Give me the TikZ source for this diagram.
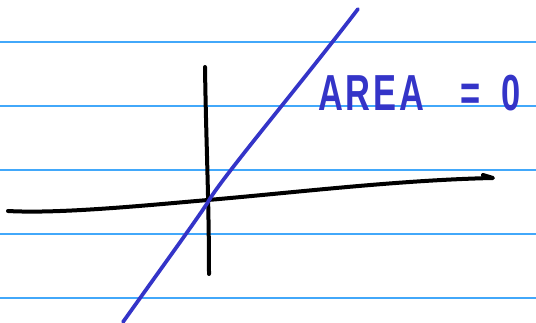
\documentclass[tikz,border=0pt]{standalone}
\usepackage{fontspec}
\setsansfont{Liberation Sans}
\definecolor{ruleblue}{RGB}{66,168,250}
\definecolor{penblue}{RGB}{52,52,200}
\usetikzlibrary{positioning,calc}

\begin{document}
\begin{tikzpicture}[x=0.75pt,y=-0.75pt,line cap=round,line join=round,
  rule/.style={ruleblue,line width=1.1pt},
  axis/.style={black,line width=3pt},
  pen/.style={penblue,line width=2.8pt}]
  \useasboundingbox (0,0) rectangle (536,323);
  % ruled lines
  \foreach \y in {42,106,170,234,298}
    \draw[rule] (0,\y) -- (536,\y);
  % axes
  \coordinate (xl) at (8,211);
  \coordinate (xr) at (493,178);
  \coordinate (yt) at (205,67);
  \coordinate (yb) at (209,274);
  \draw[axis] (yt) .. controls (206,140) and (209,200) .. (yb);
  \draw[axis] (xl) .. controls (60,214) and (150,205) .. (208,200)
    .. controls (300,192) and (400,180) .. (xr) -- (483,175);
  % the line
  \coordinate (lb) at (123,322);
  \coordinate (lt) at (358,9);
  \draw[pen] (lb) .. controls (160,270) and (200,215) .. (208,202)
    .. controls (220,180) and (300,85) .. (lt);
  % label
  \node[penblue,font=\sffamily\bfseries\fontsize{38}{38}\selectfont\addfontfeatures{LetterSpace=8},
    anchor=base west,inner sep=0pt,xscale=0.68]
    (area) at (318,111) {AREA\hspace{1.05em}=\hspace{0.6em}0};
\end{tikzpicture}
\end{document}
